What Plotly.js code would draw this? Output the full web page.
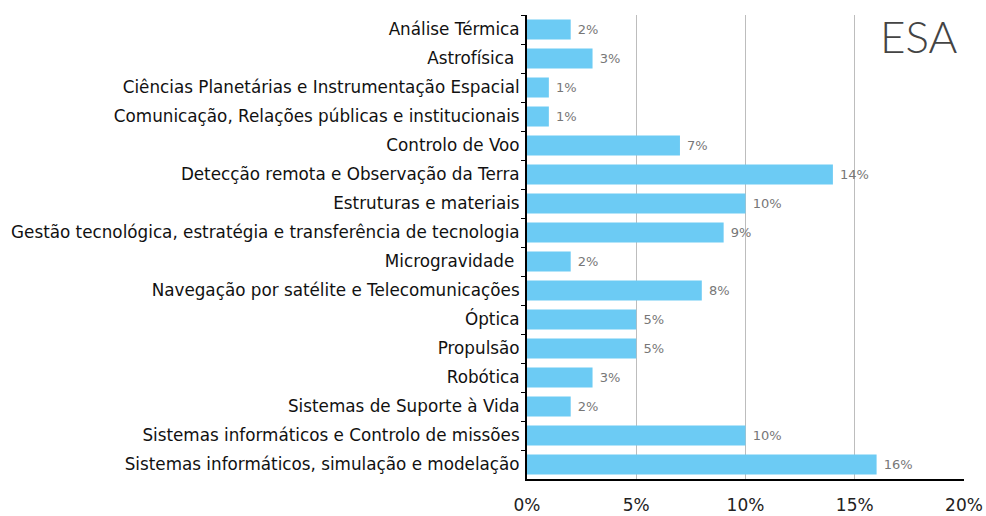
<!DOCTYPE html>
<html>
<head>
<meta charset="utf-8">
<script src="https://cdn.plot.ly/plotly-3.0.1.min.js"></script>
<style>html,body{margin:0;padding:0;background:#fff;}#chart{width:986px;height:516px;}</style>
</head>
<body>
<div id="chart"></div>
<script>
const categories = [
  "Análise Térmica",
  "Astrofísica ",
  "Ciências Planetárias e Instrumentação Espacial",
  "Comunicação, Relações públicas e institucionais",
  "Controlo de Voo",
  "Detecção remota e Observação da Terra",
  "Estruturas e materiais",
  "Gestão tecnológica, estratégia e transferência de tecnologia",
  "Microgravidade ",
  "Navegação por satélite e Telecomunicações",
  "Óptica",
  "Propulsão",
  "Robótica",
  "Sistemas de Suporte à Vida",
  "Sistemas informáticos e Controlo de missões",
  "Sistemas informáticos, simulação e modelação"
];
const values = [2, 3, 1, 1, 7, 14, 10, 9, 2, 8, 5, 5, 3, 2, 10, 16];
const xTickVals = [0, 5, 10, 15, 20];
const xTickText = ["0%", "5%", "10%", "15%", "20%"];
const chartLabel = "ESA";

const FONT = "DejaVu Sans, sans-serif";

Plotly.newPlot("chart", [{
  type: "bar",
  orientation: "h",
  y: categories,
  x: values,
  marker: {color: "#6ccbf4"},
  text: values.map(v => "\u00a0" + v + "%"),
  textposition: "outside",
  cliponaxis: false,
  textfont: {family: FONT, size: 13, color: "#777777"},
  hoverinfo: "none"
}], {
  width: 986, height: 516,
  margin: {l: 527, r: 22, t: 14.5, b: 36.5},
  paper_bgcolor: "#ffffff",
  plot_bgcolor: "#ffffff",
  bargap: 0.31,
  showlegend: false,
  font: {family: FONT, color: "#222222"},
  xaxis: {
    range: [0, 20],
    tickvals: xTickVals,
    ticktext: xTickText,
    showgrid: true,
    gridcolor: "#bdbdbd",
    gridwidth: 1,
    zeroline: false,
    showline: true,
    linecolor: "#000000",
    linewidth: 2,
    ticks: "",
    ticklabelstandoff: 10,
    tickfont: {family: FONT, size: 17, color: "#222222"},
    fixedrange: true
  },
  yaxis: {
    autorange: "reversed",
    showline: true,
    linecolor: "#000000",
    linewidth: 2,
    ticks: "outside",
    tickson: "boundaries",
    ticklen: 4,
    tickcolor: "#000000",
    showgrid: false,
    tickfont: {family: FONT, size: 16.8, color: "#111111"},
    ticklabelstandoff: 2,
    fixedrange: true
  },
  annotations: [{
    text: chartLabel,
    xref: "paper", yref: "paper",
    x: 0.99, y: 1.015,
    xanchor: "right", yanchor: "top",
    showarrow: false,
    font: {family: "Lato, sans-serif", size: 44, color: "#444444", weight: 300}
  }]
}, {displayModeBar: false, staticPlot: true});
</script>
</body>
</html>
